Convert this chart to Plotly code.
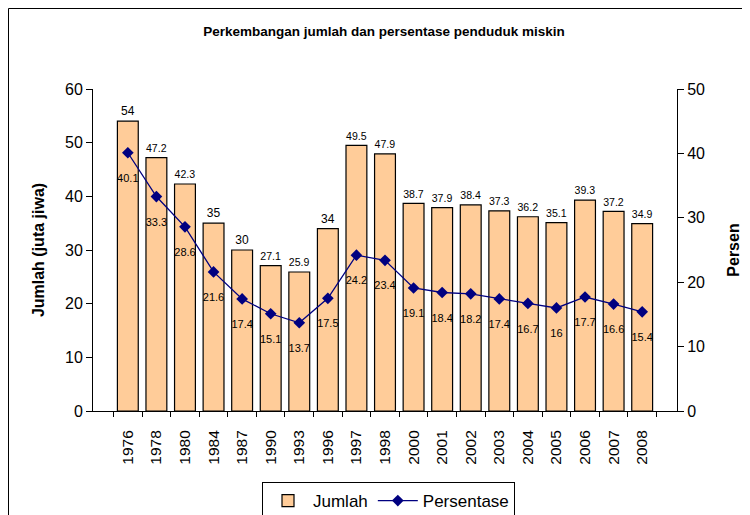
import plotly.graph_objects as go

years = ["1976","1978","1980","1984","1987","1990","1993","1996","1997","1998",
         "2000","2001","2002","2003","2004","2005","2006","2007","2008"]
jumlah = [54, 47.2, 42.3, 35, 30, 27.1, 25.9, 34, 49.5, 47.9,
          38.7, 37.9, 38.4, 37.3, 36.2, 35.1, 39.3, 37.2, 34.9]
persen = [40.1, 33.3, 28.6, 21.6, 17.4, 15.1, 13.7, 17.5, 24.2, 23.4,
          19.1, 18.4, 18.2, 17.4, 16.7, 16, 17.7, 16.6, 15.4]

FONT = "Liberation Sans, Arial, sans-serif"
W, H = 760, 560
L, T = 85, 81
PW, PH = 584, 322
R, B = W - L - PW, H - T - PH

fig = go.Figure()
fig.add_trace(go.Bar(
    x=years, y=jumlah, name="Jumlah",
    marker=dict(color="#FFCC99", line=dict(color="black", width=1.2)),
    text=[f"{v:g}" for v in jumlah], textposition="outside",
    textfont=dict(size=12, color="black", family=FONT),
    cliponaxis=False,
))
fig.add_trace(go.Scatter(
    x=years, y=persen, name="Persentase", yaxis="y2",
    mode="lines+markers+text",
    line=dict(color="#000080", width=1.3),
    marker=dict(symbol="diamond", size=9, color="#000080"),
    text=[f"<span style='font-size:7px'> </span><br>{v:g}" for v in persen],
    textposition="bottom center",
    textfont=dict(size=11, color="black", family=FONT),
    cliponaxis=False,
))

fig.update_layout(
    width=W, height=H,
    margin=dict(l=L, r=R, t=T, b=B),
    paper_bgcolor="white", plot_bgcolor="white",
    font=dict(family=FONT, color="black"),
    bargap=0.27,
    title=dict(text="<b>Perkembangan jumlah dan persentase penduduk miskin</b>",
               x=376 / W, xanchor="center", y=1 - 23 / H, yanchor="middle",
               font=dict(size=13.5, family=FONT)),
    xaxis=dict(type="category", tickangle=-90, tickfont=dict(size=15.5),
               showline=True, linecolor="black", linewidth=1,
               ticks="outside", tickson="boundaries", ticklen=5, tickcolor="black",
               ticklabelstandoff=12,
               showgrid=False, automargin=False),
    yaxis=dict(range=[0, 60], dtick=10, tickfont=dict(size=16),
               showline=True, linecolor="black", linewidth=1,
               ticks="outside", ticklen=6, tickcolor="black", showgrid=False,
               zeroline=False, automargin=False,
               title=dict(text="<b>Jumlah (juta jiwa)</b>", font=dict(size=16), standoff=16)),
    yaxis2=dict(range=[0, 50], dtick=10, overlaying="y", side="right",
                tickfont=dict(size=16),
                showline=True, linecolor="black", linewidth=1,
                ticks="outside", ticklen=6, tickcolor="black", showgrid=False,
                zeroline=False, automargin=False,
                title=dict(text="<b>Persen</b>", font=dict(size=16), standoff=23)),
    legend=dict(orientation="h", x=0.506, xanchor="center", y=-(474 - 403) / PH, yanchor="top",
                bordercolor="black", borderwidth=1, font=dict(size=17),
                itemwidth=40, tracegroupgap=0),
    showlegend=True,
)

# outer chart border
fig.add_shape(type="rect", xref="paper", yref="paper",
              x0=(0.5 - L) / PW, x1=(W + 5 - L) / PW,
              y0=(PH + T - (H + 5)) / PH, y1=(PH + T - 0.5) / PH,
              line=dict(color="black", width=1), layer="below")

fig.write_html("out.html")
